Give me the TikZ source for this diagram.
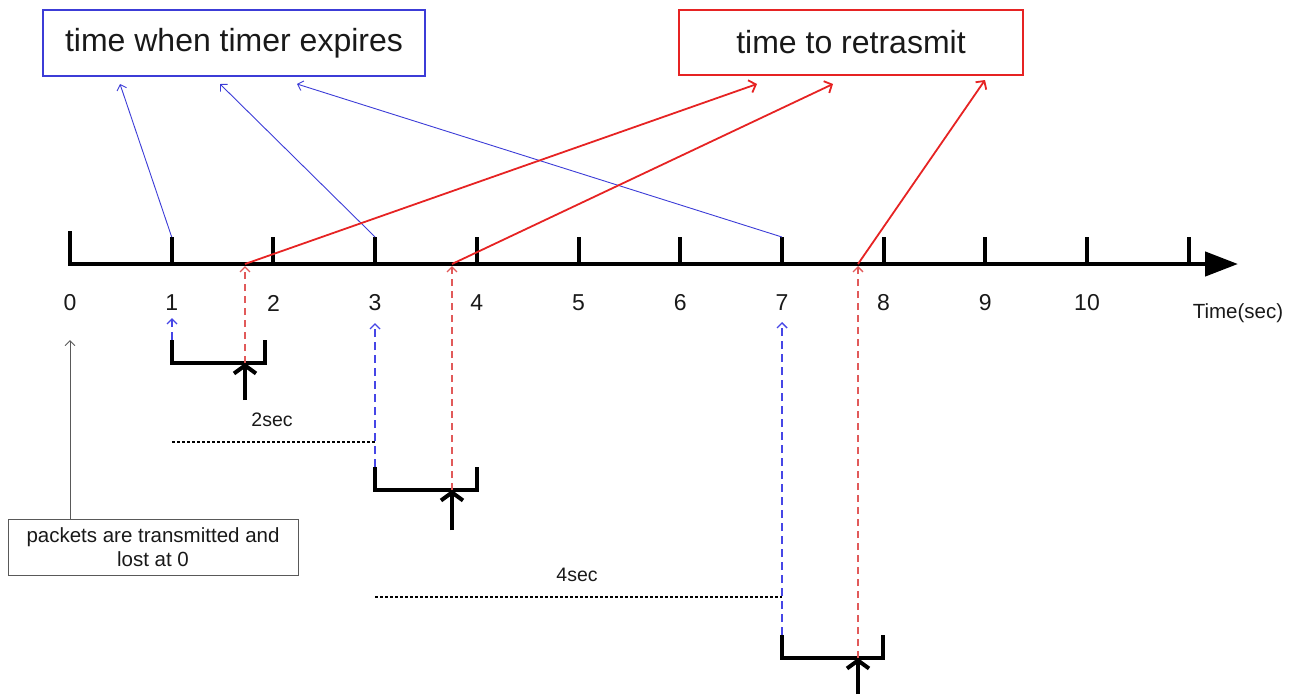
\documentclass[tikz,border=0pt]{standalone}
\usepackage{fontspec}
\setmainfont{Liberation Sans}
\usetikzlibrary{arrows.meta, positioning}
\definecolor{boxblue}{RGB}{60,60,215}
\definecolor{boxred}{RGB}{230,35,35}
\definecolor{dashred}{RGB}{225,90,90}
\definecolor{dashblue}{RGB}{70,70,230}
\definecolor{txtgray}{RGB}{25,25,25}

\begin{document}
\begin{tikzpicture}[x=1pt, y=-1pt, >={Straight Barb[length=5pt, width=10pt]}]
  \tikzstyle{titlebox} = [draw, line width=1.3pt, text=txtgray, inner sep=0pt,
    font=\fontsize{32}{36}\selectfont]
  \tikzstyle{notebox} = [draw=black!65, line width=0.9pt, text=txtgray, align=center,
    inner sep=0pt, font=\fontsize{20.5}{24}\selectfont]
  \tikzstyle{num} = [text=txtgray, font=\fontsize{23}{26}\selectfont]
  \tikzstyle{small} = [text=txtgray, font=\fontsize{19.5}{22}\selectfont]
  \tikzstyle{bracket} = [line width=4.5pt, line join=miter]
  \tikzstyle{push} = [line width=4pt, -{Straight Barb[length=8pt, width=22pt]}]
  \tikzstyle{bluedash} = [dashblue, line width=1.4pt, dash pattern=on 8pt off 5pt, ->]
  \tikzstyle{reddash} = [dashred, line width=1.3pt, dash pattern=on 7pt off 5pt, ->]
  \useasboundingbox (0,0) rectangle (1292,694);

  \node [titlebox, draw=boxblue, minimum width=382pt, minimum height=66pt]
    (expire) at (234,43) {time when timer expires};
  \node [titlebox, draw=boxred, minimum width=344pt, minimum height=65pt]
    (retx) at (851,42.5) {time to retrasmit};
  \node [notebox, minimum width=290pt, minimum height=56pt]
    (note) at (153,547) {packets are transmitted and\\lost at 0};

  % time axis
  \foreach \i in {0,...,11} {
    \coordinate (t\i) at ({70+101.7*\i},264);
    \coordinate (u\i) at ({70+101.7*\i},237);
  }
  \coordinate (axisend) at (1238,264);
  \draw [line width=4.5pt, -{Triangle[length=33pt, width=24pt]}] (68,264) -- (axisend);
  \draw [line width=4pt] (t0) -- (70,231);
  \foreach \i in {1,...,11}
    \draw [line width=4pt] (t\i) -- (u\i);
  \foreach \i in {0,...,10}
    \node [num] (n\i) at ({70+101.7*\i},303) {\i};
  \node [small, font=\fontsize{20.5}{22}\selectfont] (unit) at (1238,313) {Time(sec)};

  % timeouts and retransmissions
  \foreach \k/\l/\top/\r/\rx/\ab/\tip in
      {1/172/340/265/245/400/318, 2/375/467/477/452/530/323, 3/782/635/883/858/694/322} {
    \coordinate (bl\k) at (\l,\top);
    \coordinate (br\k) at (\r,\top);
    \coordinate (bd\k) at (\rx,{\top+23});
    \coordinate (ba\k) at (\rx,\ab);
    \coordinate (ax\k) at (\rx,264);
    \coordinate (bu\k) at (\l,\tip);
    \draw [bracket] (bl\k) -- (\l,{\top+23}) -- (\r,{\top+23}) -- (br\k);
    \draw [push] (ba\k) -- (bd\k);
    \draw [bluedash] (bl\k) -- (bu\k);
    \draw [reddash] (bd\k) -- ([yshift=-2pt]ax\k);
  }

  \coordinate (e1) at (120,84);
  \coordinate (e2) at (220,84);
  \coordinate (e3) at (297,84);
  \coordinate (r1) at (757,84);
  \coordinate (r2) at (833,84);
  \coordinate (r3) at (985,80);
  \draw [boxblue, line width=0.9pt, ->] (u1) -- (e1);
  \draw [boxblue, line width=0.9pt, ->] (u3) -- (e2);
  \draw [boxblue, line width=0.9pt, ->] (u7) -- (e3);
  \draw [boxred, line width=1.8pt, -{Straight Barb[length=6pt, width=13pt]}] (ax1) -- (r1);
  \draw [boxred, line width=1.8pt, -{Straight Barb[length=6pt, width=13pt]}] (ax2) -- (r2);
  \draw [boxred, line width=1.8pt, -{Straight Barb[length=6pt, width=13pt]}] (ax3) -- (r3);

  % doubled timeouts
  \coordinate (d1) at (172,442);
  \coordinate (d2) at (375,442);
  \coordinate (d3) at (375,597);
  \coordinate (d4) at (782,597);
  \draw [line width=1.2pt, dash pattern=on 3pt off 2pt] (d1) -- (d2);
  \draw [line width=1.2pt, dash pattern=on 3pt off 2pt] (d3) -- (d4);
  \node [small] (two) at (272,420) {2sec};
  \node [small] (four) at (577,575) {4sec};

  \draw [black!65, line width=0.9pt, ->] (note.north -| t0) -- (70,340);
\end{tikzpicture}
\end{document}
